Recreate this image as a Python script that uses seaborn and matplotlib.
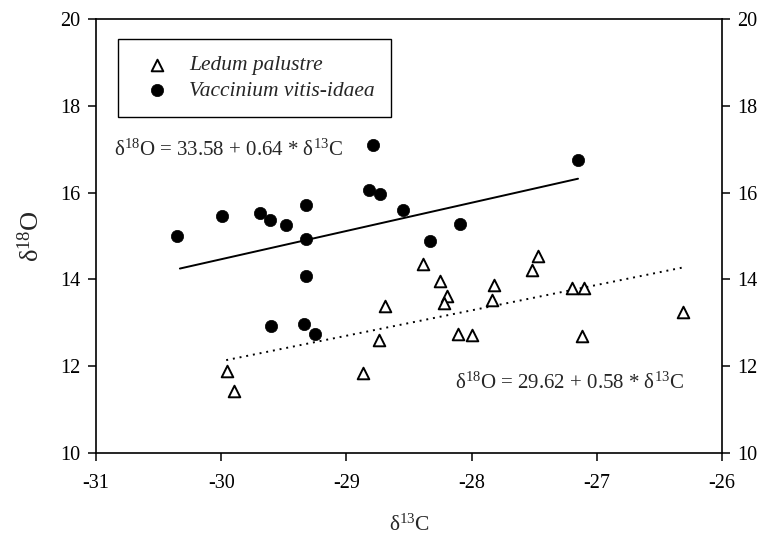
import matplotlib
matplotlib.use("Agg")
import matplotlib.pyplot as plt
import seaborn as sns
import pandas as pd

# ---- data ----
ledum_d13c = [-29.95, -29.90, -28.87, -28.74, -28.69, -28.39, -28.25, -28.20, -28.22,
              -28.11, -28.00, -27.82, -27.84, -27.52, -27.47, -27.20, -27.10, -27.12, -26.31]
ledum_d18o = [11.89, 11.43, 11.85, 12.60, 13.38, 14.36, 13.96, 13.62, 13.46,
              12.74, 12.71, 13.88, 13.53, 14.22, 14.55, 13.81, 13.81, 12.69, 13.25]

vacc_d13c = [-30.35, -29.99, -29.69, -29.61, -29.48, -29.32, -29.32, -29.32, -29.60,
             -29.34, -29.25, -28.82, -28.73, -28.79, -28.55, -28.09, -28.33, -27.15]
vacc_d18o = [14.99, 15.47, 15.52, 15.37, 15.26, 15.72, 14.93, 14.07, 12.92,
             12.97, 12.74, 16.07, 15.97, 17.10, 15.59, 15.27, 14.89, 16.74]

# regression lines (endpoints)
vacc_fit_x = [-30.33, -27.15]
vacc_fit_y = [14.25, 16.32]
ledum_fit_x = [-29.96, -26.32]
ledum_fit_y = [12.14, 14.27]

eq_vacc = r"δ$^{18}$O = 33.58 + 0.64 * δ$^{13}$C"
eq_ledum = r"δ$^{18}$O = 29.62 + 0.58 * δ$^{13}$C"

x_ticks = [-31, -30, -29, -28, -27, -26]
y_ticks = [10, 12, 14, 16, 18, 20]

sns.set_style("ticks")
plt.rcParams["font.family"] = ["Liberation Serif", "DejaVu Serif"]
plt.rcParams["mathtext.fontset"] = "custom"
plt.rcParams["mathtext.rm"] = "Liberation Serif"
plt.rcParams["mathtext.it"] = "Liberation Serif:italic"
plt.rcParams["mathtext.bf"] = "Liberation Serif:bold"

fig = plt.figure(figsize=(7.63, 5.42), dpi=100)
ax = fig.add_axes([96 / 763, 1 - 453 / 542, (722 - 96) / 763, (453 - 19) / 542])

df_l = pd.DataFrame({"x": ledum_d13c, "y": ledum_d18o})
df_v = pd.DataFrame({"x": vacc_d13c, "y": vacc_d18o})

sns.scatterplot(data=df_l, x="x", y="y", ax=ax, marker="^", s=70,
                facecolor="white", edgecolor="black", linewidth=1.4,
                label="Ledum palustre", zorder=3)
sns.scatterplot(data=df_v, x="x", y="y", ax=ax, marker="o", s=78,
                color="black", edgecolor="black", linewidth=0.5,
                label="Vaccinium vitis-idaea", zorder=3)

sns.lineplot(x=vacc_fit_x, y=vacc_fit_y, ax=ax, color="black", lw=1.4, zorder=2)
sns.lineplot(x=ledum_fit_x, y=ledum_fit_y, ax=ax, color="black", lw=1.4,
             linestyle=(0, (1, 2.5)), zorder=2)

ax.text(-30.86, 16.98, eq_vacc, fontsize=15, ha="left", va="center")
ax.text(-28.13, 11.61, eq_ledum, fontsize=15, ha="left", va="center")

ax.set_xlim(-31, -26)
ax.set_ylim(10, 20)
ax.set_xticks(x_ticks)
ax.set_yticks(y_ticks)
ax.set_xticklabels([str(t) for t in x_ticks])
ax.set_yticklabels([str(t) for t in y_ticks])

for sp in ax.spines.values():
    sp.set_visible(True)
    sp.set_linewidth(1.2)
    sp.set_color("black")

ax.tick_params(axis="both", direction="out", length=6, width=1.1, colors="black",
               labelsize=14.5)
ax.tick_params(axis="y", right=True, labelright=True, left=True, labelleft=True, pad=5)
ax.tick_params(axis="x", top=False, bottom=True, pad=9)

ax.set_xlabel(r"δ$^{13}$C", fontsize=15.5, labelpad=16)
ax.set_ylabel(r"δ$^{18}$O", fontsize=19, labelpad=12)

leg = ax.legend(loc="upper left", bbox_to_anchor=((118 - 96) / 626, 1 - (39 - 19) / 434),
                frameon=True, fancybox=False, edgecolor="black", framealpha=1,
                prop={"family": "Liberation Serif", "style": "italic", "size": 15.5},
                handlelength=2.14, handletextpad=0.42, borderpad=0.75,
                labelspacing=0.25, borderaxespad=0)
leg.get_frame().set_linewidth(1.0)

fig.savefig("out.png", dpi=100)
